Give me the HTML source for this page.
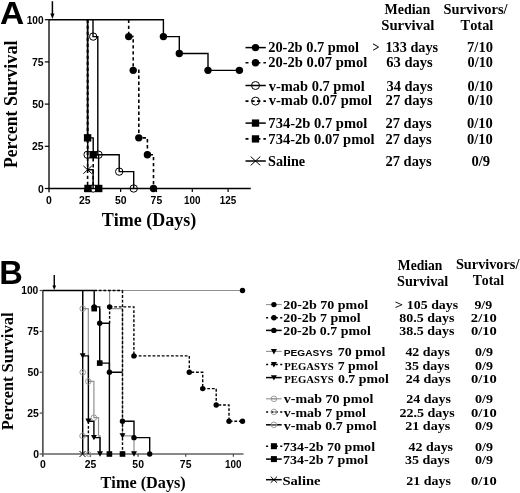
<!DOCTYPE html>
<html><head><meta charset="utf-8"><style>
html,body{margin:0;padding:0;background:#fff;}
svg{display:block;}
text{font-kerning:none;}
</style></head><body>
<svg width="520" height="493" viewBox="0 0 520 493">
<defs><filter id="soft" x="0" y="0" width="100%" height="100%"><feGaussianBlur stdDeviation="0.35"/></filter></defs>
<rect width="520" height="493" fill="#fff"/>
<g filter="url(#soft)">
<rect width="520" height="493" fill="#fff"/>
<text x="0.06" y="23.60" font-family="'Liberation Sans', sans-serif" font-weight="bold" font-size="31" textLength="24.22" lengthAdjust="spacingAndGlyphs" fill="#000">A</text>
<path d="M49.0,19.40 L49.0,192.30" stroke="#222" stroke-width="1.5" fill="none"/>
<path d="M48.3,188.5 L250.8,188.5" stroke="#000" stroke-width="1.3" fill="none"/>
<path d="M44.80,188.50 L49.0,188.50" stroke="#000" stroke-width="1.2" fill="none"/>
<path d="M44.80,146.30 L49.0,146.30" stroke="#000" stroke-width="1.2" fill="none"/>
<path d="M44.80,104.10 L49.0,104.10" stroke="#000" stroke-width="1.2" fill="none"/>
<path d="M44.80,61.90 L49.0,61.90" stroke="#000" stroke-width="1.2" fill="none"/>
<path d="M44.80,19.70 L49.0,19.70" stroke="#000" stroke-width="1.2" fill="none"/>
<path d="M84.83,188.5 L84.83,192.10" stroke="#000" stroke-width="1.2" fill="none"/>
<path d="M120.65,188.5 L120.65,192.10" stroke="#000" stroke-width="1.2" fill="none"/>
<path d="M156.48,188.5 L156.48,192.10" stroke="#000" stroke-width="1.2" fill="none"/>
<path d="M192.30,188.5 L192.30,192.10" stroke="#000" stroke-width="1.2" fill="none"/>
<path d="M228.12,188.5 L228.12,192.10" stroke="#000" stroke-width="1.2" fill="none"/>
<text x="26.76" y="23.70" font-family="'Liberation Sans', sans-serif" font-weight="bold" font-size="10.4" textLength="16.85" lengthAdjust="spacingAndGlyphs" fill="#000">100</text>
<text x="32.02" y="65.90" font-family="'Liberation Sans', sans-serif" font-weight="bold" font-size="10.4" textLength="11.57" lengthAdjust="spacingAndGlyphs" fill="#000">75</text>
<text x="32.16" y="108.10" font-family="'Liberation Sans', sans-serif" font-weight="bold" font-size="10.4" textLength="11.57" lengthAdjust="spacingAndGlyphs" fill="#000">50</text>
<text x="32.02" y="150.30" font-family="'Liberation Sans', sans-serif" font-weight="bold" font-size="10.4" textLength="11.57" lengthAdjust="spacingAndGlyphs" fill="#000">25</text>
<text x="37.94" y="192.50" font-family="'Liberation Sans', sans-serif" font-weight="bold" font-size="10.4" textLength="5.78" lengthAdjust="spacingAndGlyphs" fill="#000">0</text>
<text x="46.12" y="203.60" font-family="'Liberation Sans', sans-serif" font-weight="bold" font-size="10.4" textLength="5.78" lengthAdjust="spacingAndGlyphs" fill="#000">0</text>
<text x="79.01" y="203.60" font-family="'Liberation Sans', sans-serif" font-weight="bold" font-size="10.4" textLength="11.57" lengthAdjust="spacingAndGlyphs" fill="#000">25</text>
<text x="114.92" y="203.60" font-family="'Liberation Sans', sans-serif" font-weight="bold" font-size="10.4" textLength="11.57" lengthAdjust="spacingAndGlyphs" fill="#000">50</text>
<text x="150.61" y="203.60" font-family="'Liberation Sans', sans-serif" font-weight="bold" font-size="10.4" textLength="11.57" lengthAdjust="spacingAndGlyphs" fill="#000">75</text>
<text x="183.95" y="203.60" font-family="'Liberation Sans', sans-serif" font-weight="bold" font-size="10.4" textLength="16.48" lengthAdjust="spacingAndGlyphs" fill="#000">100</text>
<text x="219.71" y="203.60" font-family="'Liberation Sans', sans-serif" font-weight="bold" font-size="10.4" textLength="16.48" lengthAdjust="spacingAndGlyphs" fill="#000">125</text>
<path d="M52.4,1.2 L52.4,15" stroke="#000" stroke-width="1.5" fill="none"/>
<path d="M50.3,13.6 L54.5,13.6 L52.4,18.9 Z" fill="#000"/>
<text transform="translate(17.20,167.90) rotate(-90)" x="0" y="0" font-family="'Liberation Serif', serif" font-weight="bold" font-size="18" textLength="57.28" lengthAdjust="spacingAndGlyphs">Percent</text>
<text transform="translate(17.20,105.96) rotate(-90)" x="0" y="0" font-family="'Liberation Serif', serif" font-weight="bold" font-size="18" textLength="65.47" lengthAdjust="spacingAndGlyphs">Survival</text>
<text x="101.82" y="225.80" font-family="'Liberation Serif', serif" font-weight="bold" font-size="18" textLength="94.47" lengthAdjust="spacingAndGlyphs" fill="#000">Time (Days)</text>
<path d="M49.00,19.70 L163.40,19.70 L163.40,36.58 L179.30,36.58 L179.30,53.46 L208.00,53.46 L208.00,70.34 L239.40,70.34" stroke="#000" stroke-width="1.4" fill="none"/>
<path d="M128.70,19.70 L128.70,36.58 L133.20,36.58 L133.20,70.34 L138.80,70.34 L138.80,137.86 L147.40,137.86 L147.40,154.74 L153.50,154.74 L153.50,188.50" stroke="#000" stroke-width="1.6" fill="none" stroke-dasharray="3.4,2.6"/>
<path d="M93.00,19.70 L93.00,36.58 L97.80,36.58 L97.80,154.74 L119.20,154.74 L119.20,171.62 L133.70,171.62 L133.70,188.50" stroke="#000" stroke-width="1.4" fill="none"/>
<path d="M87.60,19.70 L87.60,154.74 L93.20,154.74 L93.20,188.50" stroke="#000" stroke-width="1.6" fill="none" stroke-dasharray="3.4,2.6"/>
<path d="M87.50,19.70 L87.50,137.86 L93.20,137.86 L93.20,154.74 L98.60,154.74 L98.60,188.50" stroke="#000" stroke-width="1.4" fill="none"/>
<path d="M87.60,19.70 L87.60,188.50" stroke="#000" stroke-width="1.6" fill="none" stroke-dasharray="3.4,2.6"/>
<path d="M87.70,19.70 L87.70,169.76 L93.10,169.76 L93.10,188.50" stroke="#000" stroke-width="1.4" fill="none"/>
<circle cx="163.40" cy="36.58" r="3.7" fill="#000"/>
<circle cx="179.30" cy="53.46" r="3.7" fill="#000"/>
<circle cx="208.00" cy="70.34" r="3.7" fill="#000"/>
<circle cx="239.40" cy="70.34" r="3.7" fill="#000"/>
<circle cx="128.70" cy="36.58" r="3.7" fill="#000"/>
<circle cx="133.20" cy="70.34" r="3.7" fill="#000"/>
<circle cx="138.80" cy="137.86" r="3.7" fill="#000"/>
<circle cx="147.40" cy="154.74" r="3.7" fill="#000"/>
<circle cx="153.50" cy="188.50" r="3.7" fill="#000"/>
<circle cx="87.60" cy="154.74" r="3.7" fill="none" stroke="#000" stroke-width="1.0"/>
<circle cx="93.20" cy="188.50" r="3.7" fill="none" stroke="#000" stroke-width="1.0"/>
<circle cx="93.20" cy="36.58" r="3.7" fill="none" stroke="#000" stroke-width="1.0"/>
<circle cx="98.60" cy="154.74" r="3.7" fill="none" stroke="#000" stroke-width="1.0"/>
<circle cx="119.20" cy="171.62" r="3.7" fill="none" stroke="#000" stroke-width="1.0"/>
<circle cx="133.70" cy="188.50" r="3.7" fill="none" stroke="#000" stroke-width="1.0"/>
<rect x="83.90" y="134.16" width="7.4" height="7.4" fill="#000"/>
<rect x="89.50" y="151.04" width="7.4" height="7.4" fill="#000"/>
<rect x="95.00" y="184.80" width="7.4" height="7.4" fill="#000"/>
<rect x="84.30" y="184.80" width="7.4" height="7.4" fill="#000"/>
<path d="M83.35,165.86 L91.85,173.66 M83.35,173.66 L91.85,165.86" stroke="#000" stroke-width="1.0" fill="none"/>
<text x="384.46" y="13.80" font-family="'Liberation Serif', serif" font-weight="bold" font-size="14" textLength="45.95" lengthAdjust="spacingAndGlyphs" fill="#000">Median</text>
<text x="381.22" y="30.00" font-family="'Liberation Serif', serif" font-weight="bold" font-size="14" textLength="53.24" lengthAdjust="spacingAndGlyphs" fill="#000">Survival</text>
<text x="443.53" y="13.50" font-family="'Liberation Serif', serif" font-weight="bold" font-size="14" textLength="64.02" lengthAdjust="spacingAndGlyphs" fill="#000">Survivors/</text>
<text x="460.58" y="30.30" font-family="'Liberation Serif', serif" font-weight="bold" font-size="14" textLength="32.77" lengthAdjust="spacingAndGlyphs" fill="#000">Total</text>
<text x="268.20" y="52.00" font-family="'Liberation Serif', serif" font-weight="bold" font-size="14.2" textLength="90.85" lengthAdjust="spacingAndGlyphs" fill="#000">20-2b 0.7 pmol</text>
<text x="372.58" y="52.00" font-family="'Liberation Serif', serif" font-weight="bold" font-size="14.2" textLength="6.99" lengthAdjust="spacingAndGlyphs" fill="#000">&gt;</text>
<text x="385.46" y="52.00" font-family="'Liberation Serif', serif" font-weight="bold" font-size="14.2" textLength="52.69" lengthAdjust="spacingAndGlyphs" fill="#000">133 days</text>
<text x="467.07" y="52.30" font-family="'Liberation Serif', serif" font-weight="bold" font-size="14.2" textLength="25.89" lengthAdjust="spacingAndGlyphs" fill="#000">7/10</text>
<path d="M245.5,47.6 L265.8,47.6" stroke="#000" stroke-width="1.5" fill="none"/>
<circle cx="255.50" cy="47.60" r="3.7" fill="#000"/>
<text x="268.19" y="67.00" font-family="'Liberation Serif', serif" font-weight="bold" font-size="14.2" textLength="99.06" lengthAdjust="spacingAndGlyphs" fill="#000">20-2b 0.07 pmol</text>
<text x="386.30" y="67.00" font-family="'Liberation Serif', serif" font-weight="bold" font-size="14.2" textLength="46.35" lengthAdjust="spacingAndGlyphs" fill="#000">63 days</text>
<text x="467.56" y="67.30" font-family="'Liberation Serif', serif" font-weight="bold" font-size="14.2" textLength="25.39" lengthAdjust="spacingAndGlyphs" fill="#000">0/10</text>
<path d="M245.5,62.8 L248.5,62.8 M251.9,62.8 L254.6,62.8 M257.0,62.8 L260.4,62.8 M263.4,62.8 L265.9,62.8" stroke="#000" stroke-width="1.6" fill="none"/>
<circle cx="255.50" cy="62.80" r="3.7" fill="#000"/>
<text x="268.80" y="90.60" font-family="'Liberation Serif', serif" font-weight="bold" font-size="14.2" textLength="95.85" lengthAdjust="spacingAndGlyphs" fill="#000">v-mab 0.7 pmol</text>
<text x="386.46" y="90.60" font-family="'Liberation Serif', serif" font-weight="bold" font-size="14.2" textLength="46.20" lengthAdjust="spacingAndGlyphs" fill="#000">34 days</text>
<text x="467.56" y="90.90" font-family="'Liberation Serif', serif" font-weight="bold" font-size="14.2" textLength="25.39" lengthAdjust="spacingAndGlyphs" fill="#000">0/10</text>
<path d="M245.5,85.5 L265.8,85.5" stroke="#000" stroke-width="1.5" fill="none"/>
<circle cx="255.50" cy="85.50" r="4.0" fill="none" stroke="#000" stroke-width="1.0"/>
<text x="268.80" y="105.00" font-family="'Liberation Serif', serif" font-weight="bold" font-size="14.2" textLength="103.25" lengthAdjust="spacingAndGlyphs" fill="#000">v-mab 0.07 pmol</text>
<text x="385.58" y="105.00" font-family="'Liberation Serif', serif" font-weight="bold" font-size="14.2" textLength="47.08" lengthAdjust="spacingAndGlyphs" fill="#000">27 days</text>
<text x="467.56" y="105.30" font-family="'Liberation Serif', serif" font-weight="bold" font-size="14.2" textLength="25.39" lengthAdjust="spacingAndGlyphs" fill="#000">0/10</text>
<path d="M245.5,101.1 L248.5,101.1 M251.9,101.1 L254.6,101.1 M257.0,101.1 L260.4,101.1 M263.4,101.1 L265.9,101.1" stroke="#000" stroke-width="1.6" fill="none"/>
<circle cx="255.50" cy="101.10" r="4.0" fill="none" stroke="#000" stroke-width="1.0"/>
<text x="268.37" y="128.00" font-family="'Liberation Serif', serif" font-weight="bold" font-size="14.2" textLength="98.98" lengthAdjust="spacingAndGlyphs" fill="#000">734-2b 0.7 pmol</text>
<text x="385.49" y="128.00" font-family="'Liberation Serif', serif" font-weight="bold" font-size="14.2" textLength="46.26" lengthAdjust="spacingAndGlyphs" fill="#000">27 days</text>
<text x="466.95" y="128.30" font-family="'Liberation Serif', serif" font-weight="bold" font-size="14.2" textLength="25.81" lengthAdjust="spacingAndGlyphs" fill="#000">0/10</text>
<path d="M245.5,123.1 L265.8,123.1" stroke="#000" stroke-width="1.5" fill="none"/>
<rect x="251.85" y="119.45" width="7.3" height="7.3" fill="#000"/>
<text x="268.37" y="143.50" font-family="'Liberation Serif', serif" font-weight="bold" font-size="14.2" textLength="106.18" lengthAdjust="spacingAndGlyphs" fill="#000">734-2b 0.07 pmol</text>
<text x="385.49" y="143.50" font-family="'Liberation Serif', serif" font-weight="bold" font-size="14.2" textLength="46.26" lengthAdjust="spacingAndGlyphs" fill="#000">27 days</text>
<text x="466.95" y="143.80" font-family="'Liberation Serif', serif" font-weight="bold" font-size="14.2" textLength="25.81" lengthAdjust="spacingAndGlyphs" fill="#000">0/10</text>
<path d="M245.5,138.9 L248.5,138.9 M251.9,138.9 L254.6,138.9 M257.0,138.9 L260.4,138.9 M263.4,138.9 L265.9,138.9" stroke="#000" stroke-width="1.6" fill="none"/>
<rect x="251.85" y="135.25" width="7.3" height="7.3" fill="#000"/>
<text x="268.04" y="165.70" font-family="'Liberation Serif', serif" font-weight="bold" font-size="14.2" textLength="37.12" lengthAdjust="spacingAndGlyphs" fill="#000">Saline</text>
<text x="385.49" y="165.70" font-family="'Liberation Serif', serif" font-weight="bold" font-size="14.2" textLength="46.26" lengthAdjust="spacingAndGlyphs" fill="#000">27 days</text>
<text x="471.44" y="166.00" font-family="'Liberation Serif', serif" font-weight="bold" font-size="14.2" textLength="18.69" lengthAdjust="spacingAndGlyphs" fill="#000">0/9</text>
<path d="M245.5,161.0 L265.8,161.0" stroke="#000" stroke-width="1.5" fill="none"/>
<path d="M250.70,156.60 L260.30,165.40 M250.70,165.40 L260.30,156.60" stroke="#000" stroke-width="1.0" fill="none"/>
<text x="-0.78" y="284.20" font-family="'Liberation Sans', sans-serif" font-weight="bold" font-size="32.5" textLength="23.56" lengthAdjust="spacingAndGlyphs" fill="#000">B</text>
<path d="M42.85,290.20 L42.85,456.80" stroke="#4a4a4a" stroke-width="1.6" fill="none"/>
<path d="M42.15,454.0 L243.5,454.0" stroke="#626262" stroke-width="1.6" fill="none"/>
<path d="M39.65,454.00 L42.85,454.00" stroke="#4a4a4a" stroke-width="1.2" fill="none"/>
<path d="M39.65,413.12 L42.85,413.12" stroke="#4a4a4a" stroke-width="1.2" fill="none"/>
<path d="M39.65,372.25 L42.85,372.25" stroke="#4a4a4a" stroke-width="1.2" fill="none"/>
<path d="M39.65,331.38 L42.85,331.38" stroke="#4a4a4a" stroke-width="1.2" fill="none"/>
<path d="M39.65,290.50 L42.85,290.50" stroke="#4a4a4a" stroke-width="1.2" fill="none"/>
<path d="M90.47,454.0 L90.47,456.80" stroke="#4a4a4a" stroke-width="1.2" fill="none"/>
<path d="M138.10,454.0 L138.10,456.80" stroke="#4a4a4a" stroke-width="1.2" fill="none"/>
<path d="M185.72,454.0 L185.72,456.80" stroke="#4a4a4a" stroke-width="1.2" fill="none"/>
<path d="M233.35,454.0 L233.35,456.80" stroke="#4a4a4a" stroke-width="1.2" fill="none"/>
<text x="21.26" y="294.40" font-family="'Liberation Sans', sans-serif" font-weight="bold" font-size="10.4" textLength="17.06" lengthAdjust="spacingAndGlyphs" fill="#000">100</text>
<text x="27.32" y="335.27" font-family="'Liberation Sans', sans-serif" font-weight="bold" font-size="10.4" textLength="11.57" lengthAdjust="spacingAndGlyphs" fill="#000">75</text>
<text x="27.46" y="376.15" font-family="'Liberation Sans', sans-serif" font-weight="bold" font-size="10.4" textLength="11.57" lengthAdjust="spacingAndGlyphs" fill="#000">50</text>
<text x="27.32" y="417.02" font-family="'Liberation Sans', sans-serif" font-weight="bold" font-size="10.4" textLength="11.57" lengthAdjust="spacingAndGlyphs" fill="#000">25</text>
<text x="33.24" y="457.90" font-family="'Liberation Sans', sans-serif" font-weight="bold" font-size="10.4" textLength="5.78" lengthAdjust="spacingAndGlyphs" fill="#000">0</text>
<text x="39.97" y="467.90" font-family="'Liberation Sans', sans-serif" font-weight="bold" font-size="10.4" textLength="5.78" lengthAdjust="spacingAndGlyphs" fill="#000">0</text>
<text x="84.66" y="467.90" font-family="'Liberation Sans', sans-serif" font-weight="bold" font-size="10.4" textLength="11.57" lengthAdjust="spacingAndGlyphs" fill="#000">25</text>
<text x="132.37" y="467.90" font-family="'Liberation Sans', sans-serif" font-weight="bold" font-size="10.4" textLength="11.57" lengthAdjust="spacingAndGlyphs" fill="#000">50</text>
<text x="179.86" y="467.90" font-family="'Liberation Sans', sans-serif" font-weight="bold" font-size="10.4" textLength="11.57" lengthAdjust="spacingAndGlyphs" fill="#000">75</text>
<text x="225.00" y="467.90" font-family="'Liberation Sans', sans-serif" font-weight="bold" font-size="10.4" textLength="16.48" lengthAdjust="spacingAndGlyphs" fill="#000">100</text>
<path d="M54.25,275.0 L54.25,286.5" stroke="#000" stroke-width="1.4" fill="none"/>
<path d="M52.4,285.4 L56.1,285.4 L54.25,290.0 Z" fill="#000"/>
<text transform="translate(13.20,430.18) rotate(-90)" x="0" y="0" font-family="'Liberation Serif', serif" font-weight="bold" font-size="16.5" textLength="53.75" lengthAdjust="spacingAndGlyphs">Percent</text>
<text transform="translate(13.20,372.49) rotate(-90)" x="0" y="0" font-family="'Liberation Serif', serif" font-weight="bold" font-size="16.5" textLength="60.17" lengthAdjust="spacingAndGlyphs">Survival</text>
<text x="100.55" y="488.00" font-family="'Liberation Serif', serif" font-weight="bold" font-size="16" textLength="85.17" lengthAdjust="spacingAndGlyphs" fill="#000">Time (Days)</text>
<path d="M42.85,290.50 L242.50,290.50" stroke="#919191" stroke-width="1.1" fill="none"/>
<path d="M109.60,290.50 L109.60,308.65 L122.50,308.65 L122.50,435.85 L134.00,435.85 L134.00,454.00" stroke="#919191" stroke-width="1.2" fill="none"/>
<path d="M82.70,290.50 L82.70,308.65 L88.30,308.65 L88.30,381.41 L93.90,381.41 L93.90,417.70 L98.50,417.70 L98.50,435.85 L100.00,435.85 L100.00,454.00" stroke="#919191" stroke-width="1.2" fill="none"/>
<path d="M42.85,290.50 L94.20,290.50" stroke="#000" stroke-width="1.4" fill="none"/>
<path d="M94.20,290.50 L122.50,290.50" stroke="#000" stroke-width="1.4" fill="none" stroke-dasharray="2.8,1.8"/>
<path d="M109.60,306.85 L133.90,306.85 L133.90,355.90 L189.30,355.90 L189.30,372.25 L202.70,372.25 L202.70,388.60 L216.20,388.60 L216.20,404.95 L229.00,404.95 L229.00,421.30 L242.50,421.30" stroke="#000" stroke-width="1.4" fill="none" stroke-dasharray="2.8,1.8"/>
<path d="M109.60,306.85 L109.60,323.20" stroke="#000" stroke-width="1.4" fill="none" stroke-dasharray="2.8,1.8"/>
<path d="M122.50,290.50 L122.50,454.00" stroke="#000" stroke-width="1.4" fill="none" stroke-dasharray="2.8,1.8"/>
<path d="M88.40,421.30 L88.40,435.85" stroke="#000" stroke-width="1.4" fill="none" stroke-dasharray="2.8,1.8"/>
<path d="M94.20,290.50 L94.20,306.85 L99.70,306.85 L99.70,323.20 L109.40,323.20 L109.40,372.25 L122.50,372.25" stroke="#000" stroke-width="1.4" fill="none"/>
<path d="M122.50,421.30 L134.00,421.30 L134.00,437.65 L149.70,437.65 L149.70,454.00" stroke="#000" stroke-width="1.4" fill="none"/>
<path d="M99.70,308.65 L99.70,363.09 L109.40,363.09 L109.40,454.00" stroke="#000" stroke-width="1.4" fill="none"/>
<path d="M82.70,290.50 L82.70,454.00" stroke="#000" stroke-width="1.4" fill="none"/>
<path d="M82.70,355.90 L88.40,355.90 L88.40,421.30 L93.90,421.30 L93.90,437.65 L100.00,437.65 L100.00,454.00" stroke="#000" stroke-width="1.4" fill="none"/>
<path d="M82.70,435.85 L88.20,435.85 L88.20,454.00" stroke="#000" stroke-width="1.4" fill="none"/>
<circle cx="242.50" cy="290.50" r="2.7" fill="#000"/>
<circle cx="109.60" cy="306.85" r="2.7" fill="#000"/>
<circle cx="133.90" cy="355.90" r="2.7" fill="#000"/>
<circle cx="189.30" cy="372.25" r="2.7" fill="#000"/>
<circle cx="202.70" cy="388.60" r="2.7" fill="#000"/>
<circle cx="216.20" cy="404.95" r="2.7" fill="#000"/>
<circle cx="229.00" cy="421.30" r="2.7" fill="#000"/>
<circle cx="242.50" cy="421.30" r="2.7" fill="#000"/>
<circle cx="94.20" cy="306.85" r="2.7" fill="#000"/>
<circle cx="99.70" cy="323.20" r="2.7" fill="#000"/>
<circle cx="109.40" cy="372.25" r="2.7" fill="#000"/>
<circle cx="122.50" cy="421.30" r="2.7" fill="#000"/>
<circle cx="134.00" cy="437.65" r="2.7" fill="#000"/>
<circle cx="149.70" cy="454.00" r="2.7" fill="#000"/>
<rect x="91.40" y="305.85" width="5.6" height="5.6" fill="#000"/>
<rect x="96.90" y="360.29" width="5.6" height="5.6" fill="#000"/>
<rect x="106.60" y="451.20" width="5.6" height="5.6" fill="#000"/>
<rect x="119.70" y="451.20" width="5.6" height="5.6" fill="#000"/>
<path d="M79.70,353.20 L85.70,353.20 L82.70,358.60 Z" fill="#000"/>
<path d="M85.40,418.60 L91.40,418.60 L88.40,424.00 Z" fill="#000"/>
<path d="M90.90,434.95 L96.90,434.95 L93.90,440.35 Z" fill="#000"/>
<path d="M97.00,451.30 L103.00,451.30 L100.00,456.70 Z" fill="#000"/>
<path d="M119.50,433.15 L125.50,433.15 L122.50,438.55 Z" fill="#000"/>
<path d="M131.00,451.30 L137.00,451.30 L134.00,456.70 Z" fill="#000"/>
<circle cx="82.70" cy="308.65" r="2.8" fill="none" stroke="#919191" stroke-width="0.9"/>
<circle cx="88.30" cy="381.41" r="2.8" fill="none" stroke="#919191" stroke-width="0.9"/>
<circle cx="93.90" cy="417.70" r="2.8" fill="none" stroke="#919191" stroke-width="0.9"/>
<circle cx="82.70" cy="372.25" r="2.8" fill="none" stroke="#919191" stroke-width="0.9"/>
<circle cx="82.70" cy="372.25" r="0.9799999999999999" fill="#919191"/>
<circle cx="82.50" cy="435.85" r="2.8" fill="none" stroke="#919191" stroke-width="0.9"/>
<circle cx="88.60" cy="454.00" r="2.4" fill="none" stroke="#919191" stroke-width="0.9"/>
<path d="M79.50,451.00 L85.50,457.00 M79.50,457.00 L85.50,451.00" stroke="#000" stroke-width="1.0" fill="none"/>
<text x="397.87" y="269.90" font-family="'Liberation Serif', serif" font-weight="bold" font-size="13.8" textLength="44.54" lengthAdjust="spacingAndGlyphs" fill="#000">Median</text>
<text x="397.04" y="286.20" font-family="'Liberation Serif', serif" font-weight="bold" font-size="13.8" textLength="51.30" lengthAdjust="spacingAndGlyphs" fill="#000">Survival</text>
<text x="455.94" y="269.30" font-family="'Liberation Serif', serif" font-weight="bold" font-size="13.8" textLength="63.41" lengthAdjust="spacingAndGlyphs" fill="#000">Survivors/</text>
<text x="472.68" y="284.80" font-family="'Liberation Serif', serif" font-weight="bold" font-size="13.8" textLength="31.35" lengthAdjust="spacingAndGlyphs" fill="#000">Total</text>
<text x="283.21" y="309.10" font-family="'Liberation Serif', serif" font-weight="bold" font-size="13.0" textLength="85.03" lengthAdjust="spacingAndGlyphs" fill="#000">20-2b 70 pmol</text>
<text x="394.76" y="309.10" font-family="'Liberation Serif', serif" font-weight="bold" font-size="13.0" textLength="8.34" lengthAdjust="spacingAndGlyphs" fill="#000">&gt;</text>
<text x="406.89" y="309.10" font-family="'Liberation Serif', serif" font-weight="bold" font-size="13.0" textLength="51.25" lengthAdjust="spacingAndGlyphs" fill="#000">105 days</text>
<text x="474.42" y="309.10" font-family="'Liberation Serif', serif" font-weight="bold" font-size="13.0" textLength="17.78" lengthAdjust="spacingAndGlyphs" fill="#000">9/9</text>
<path d="M266.0,304.6 L281.7,304.6" stroke="#919191" stroke-width="1.1" fill="none"/>
<circle cx="273.90" cy="304.60" r="2.7" fill="#000"/>
<text x="283.21" y="322.30" font-family="'Liberation Serif', serif" font-weight="bold" font-size="13.0" textLength="77.52" lengthAdjust="spacingAndGlyphs" fill="#000">20-2b 7 pmol</text>
<text x="399.34" y="322.30" font-family="'Liberation Serif', serif" font-weight="bold" font-size="13.0" textLength="55.00" lengthAdjust="spacingAndGlyphs" fill="#000">80.5 days</text>
<text x="470.89" y="322.30" font-family="'Liberation Serif', serif" font-weight="bold" font-size="13.0" textLength="25.97" lengthAdjust="spacingAndGlyphs" fill="#000">2/10</text>
<path d="M266.1,317.7 L268.1,317.7 M270.9,317.7 L273.0,317.7 M275.4,317.7 L277.8,317.7 M280.2,317.7 L282.3,317.7" stroke="#000" stroke-width="1.5" fill="none"/>
<circle cx="273.90" cy="317.70" r="2.7" fill="#000"/>
<text x="283.22" y="335.30" font-family="'Liberation Serif', serif" font-weight="bold" font-size="13.0" textLength="87.52" lengthAdjust="spacingAndGlyphs" fill="#000">20-2b 0.7 pmol</text>
<text x="399.28" y="335.30" font-family="'Liberation Serif', serif" font-weight="bold" font-size="13.0" textLength="55.07" lengthAdjust="spacingAndGlyphs" fill="#000">38.5 days</text>
<text x="470.94" y="335.30" font-family="'Liberation Serif', serif" font-weight="bold" font-size="13.0" textLength="25.91" lengthAdjust="spacingAndGlyphs" fill="#000">0/10</text>
<path d="M266.0,330.4 L281.7,330.4" stroke="#000" stroke-width="1.5" fill="none"/>
<circle cx="273.90" cy="330.40" r="2.7" fill="#000"/>
<text x="283.72" y="356.20" font-family="'Liberation Sans', sans-serif" font-weight="bold" font-size="9.3" textLength="49.18" lengthAdjust="spacingAndGlyphs" fill="#000">PEGASYS</text>
<text x="337.70" y="356.20" font-family="'Liberation Serif', serif" font-weight="bold" font-size="13.0" textLength="47.74" lengthAdjust="spacingAndGlyphs" fill="#000">70 pmol</text>
<text x="405.41" y="356.20" font-family="'Liberation Serif', serif" font-weight="bold" font-size="13.0" textLength="44.43" lengthAdjust="spacingAndGlyphs" fill="#000">42 days</text>
<text x="475.07" y="356.20" font-family="'Liberation Serif', serif" font-weight="bold" font-size="13.0" textLength="17.94" lengthAdjust="spacingAndGlyphs" fill="#000">0/9</text>
<path d="M266.0,351.4 L281.7,351.4" stroke="#919191" stroke-width="1.1" fill="none"/>
<path d="M270.90,349.00 L276.90,349.00 L273.90,354.40 Z" fill="#000"/>
<text x="284.22" y="369.60" font-family="'Liberation Serif', serif" font-weight="bold" font-size="10.0" textLength="49.54" lengthAdjust="spacingAndGlyphs" fill="#000">PEGASYS</text>
<text x="337.71" y="369.60" font-family="'Liberation Serif', serif" font-weight="bold" font-size="13.0" textLength="40.33" lengthAdjust="spacingAndGlyphs" fill="#000">7 pmol</text>
<text x="405.07" y="369.60" font-family="'Liberation Serif', serif" font-weight="bold" font-size="13.0" textLength="44.77" lengthAdjust="spacingAndGlyphs" fill="#000">35 days</text>
<text x="475.07" y="369.60" font-family="'Liberation Serif', serif" font-weight="bold" font-size="13.0" textLength="17.94" lengthAdjust="spacingAndGlyphs" fill="#000">0/9</text>
<path d="M266.1,364.4 L268.1,364.4 M270.9,364.4 L273.0,364.4 M275.4,364.4 L277.8,364.4 M280.2,364.4 L282.3,364.4" stroke="#000" stroke-width="1.5" fill="none"/>
<path d="M270.90,362.00 L276.90,362.00 L273.90,367.40 Z" fill="#000"/>
<text x="284.22" y="382.60" font-family="'Liberation Serif', serif" font-weight="bold" font-size="10.0" textLength="49.54" lengthAdjust="spacingAndGlyphs" fill="#000">PEGASYS</text>
<text x="337.97" y="382.60" font-family="'Liberation Serif', serif" font-weight="bold" font-size="13.0" textLength="50.76" lengthAdjust="spacingAndGlyphs" fill="#000">0.7 pmol</text>
<text x="405.81" y="382.60" font-family="'Liberation Serif', serif" font-weight="bold" font-size="13.0" textLength="45.04" lengthAdjust="spacingAndGlyphs" fill="#000">24 days</text>
<text x="470.94" y="382.60" font-family="'Liberation Serif', serif" font-weight="bold" font-size="13.0" textLength="25.91" lengthAdjust="spacingAndGlyphs" fill="#000">0/10</text>
<path d="M266.0,377.6 L281.7,377.6" stroke="#000" stroke-width="1.5" fill="none"/>
<path d="M270.90,375.20 L276.90,375.20 L273.90,380.60 Z" fill="#000"/>
<text x="283.80" y="403.30" font-family="'Liberation Serif', serif" font-weight="bold" font-size="13.0" textLength="89.54" lengthAdjust="spacingAndGlyphs" fill="#000">v-mab 70 pmol</text>
<text x="406.31" y="403.30" font-family="'Liberation Serif', serif" font-weight="bold" font-size="13.0" textLength="44.63" lengthAdjust="spacingAndGlyphs" fill="#000">24 days</text>
<text x="475.07" y="403.30" font-family="'Liberation Serif', serif" font-weight="bold" font-size="13.0" textLength="17.94" lengthAdjust="spacingAndGlyphs" fill="#000">0/9</text>
<path d="M266.0,398.8 L281.7,398.8" stroke="#919191" stroke-width="1.1" fill="none"/>
<circle cx="273.90" cy="398.80" r="2.8" fill="none" stroke="#919191" stroke-width="0.9"/>
<path d="M271.10,398.80 L276.70,398.80" stroke="#919191" stroke-width="0.9" fill="none"/>
<text x="283.80" y="416.60" font-family="'Liberation Serif', serif" font-weight="bold" font-size="13.0" textLength="82.14" lengthAdjust="spacingAndGlyphs" fill="#000">v-mab 7 pmol</text>
<text x="399.41" y="416.60" font-family="'Liberation Serif', serif" font-weight="bold" font-size="13.0" textLength="55.33" lengthAdjust="spacingAndGlyphs" fill="#000">22.5 days</text>
<text x="470.94" y="416.60" font-family="'Liberation Serif', serif" font-weight="bold" font-size="13.0" textLength="25.91" lengthAdjust="spacingAndGlyphs" fill="#000">0/10</text>
<path d="M266.1,411.9 L268.1,411.9 M270.9,411.9 L273.0,411.9 M275.4,411.9 L277.8,411.9 M280.2,411.9 L282.3,411.9" stroke="#000" stroke-width="1.5" fill="none"/>
<circle cx="273.90" cy="411.90" r="2.8" fill="none" stroke="#919191" stroke-width="0.9"/>
<circle cx="273.90" cy="411.90" r="0.9799999999999999" fill="#919191"/>
<text x="283.80" y="429.70" font-family="'Liberation Serif', serif" font-weight="bold" font-size="13.0" textLength="92.74" lengthAdjust="spacingAndGlyphs" fill="#000">v-mab 0.7 pmol</text>
<text x="405.21" y="429.70" font-family="'Liberation Serif', serif" font-weight="bold" font-size="13.0" textLength="45.14" lengthAdjust="spacingAndGlyphs" fill="#000">21 days</text>
<text x="475.07" y="429.70" font-family="'Liberation Serif', serif" font-weight="bold" font-size="13.0" textLength="17.94" lengthAdjust="spacingAndGlyphs" fill="#000">0/9</text>
<path d="M266.0,424.8 L281.7,424.8" stroke="#000" stroke-width="1.5" fill="none"/>
<circle cx="273.90" cy="424.80" r="2.8" fill="none" stroke="#919191" stroke-width="0.9"/>
<path d="M271.10,424.80 L276.70,424.80" stroke="#919191" stroke-width="0.9" fill="none"/>
<text x="283.00" y="450.50" font-family="'Liberation Serif', serif" font-weight="bold" font-size="13.0" textLength="92.04" lengthAdjust="spacingAndGlyphs" fill="#000">734-2b 70 pmol</text>
<text x="408.51" y="450.50" font-family="'Liberation Serif', serif" font-weight="bold" font-size="13.0" textLength="44.53" lengthAdjust="spacingAndGlyphs" fill="#000">42 days</text>
<text x="475.07" y="450.50" font-family="'Liberation Serif', serif" font-weight="bold" font-size="13.0" textLength="17.94" lengthAdjust="spacingAndGlyphs" fill="#000">0/9</text>
<path d="M266.1,446.2 L268.1,446.2 M270.9,446.2 L273.0,446.2 M275.4,446.2 L277.8,446.2 M280.2,446.2 L282.3,446.2" stroke="#000" stroke-width="1.5" fill="none"/>
<rect x="270.90" y="443.20" width="6" height="6" fill="#000"/>
<text x="283.00" y="463.90" font-family="'Liberation Serif', serif" font-weight="bold" font-size="13.0" textLength="85.04" lengthAdjust="spacingAndGlyphs" fill="#000">734-2b 7 pmol</text>
<text x="405.07" y="463.90" font-family="'Liberation Serif', serif" font-weight="bold" font-size="13.0" textLength="44.77" lengthAdjust="spacingAndGlyphs" fill="#000">35 days</text>
<text x="475.07" y="463.90" font-family="'Liberation Serif', serif" font-weight="bold" font-size="13.0" textLength="17.94" lengthAdjust="spacingAndGlyphs" fill="#000">0/9</text>
<path d="M266.0,459.1 L281.7,459.1" stroke="#000" stroke-width="1.5" fill="none"/>
<rect x="270.90" y="456.10" width="6" height="6" fill="#000"/>
<text x="282.42" y="484.50" font-family="'Liberation Serif', serif" font-weight="bold" font-size="13.0" textLength="38.16" lengthAdjust="spacingAndGlyphs" fill="#000">Saline</text>
<text x="406.31" y="484.50" font-family="'Liberation Serif', serif" font-weight="bold" font-size="13.0" textLength="44.63" lengthAdjust="spacingAndGlyphs" fill="#000">21 days</text>
<text x="470.94" y="484.50" font-family="'Liberation Serif', serif" font-weight="bold" font-size="13.0" textLength="25.91" lengthAdjust="spacingAndGlyphs" fill="#000">0/10</text>
<path d="M266.0,479.7 L281.7,479.7" stroke="#000" stroke-width="1.5" fill="none"/>
<path d="M270.70,476.55 L277.10,482.85 M270.70,482.85 L277.10,476.55" stroke="#000" stroke-width="1.0" fill="none"/>
</g>
</svg>
</body></html>
